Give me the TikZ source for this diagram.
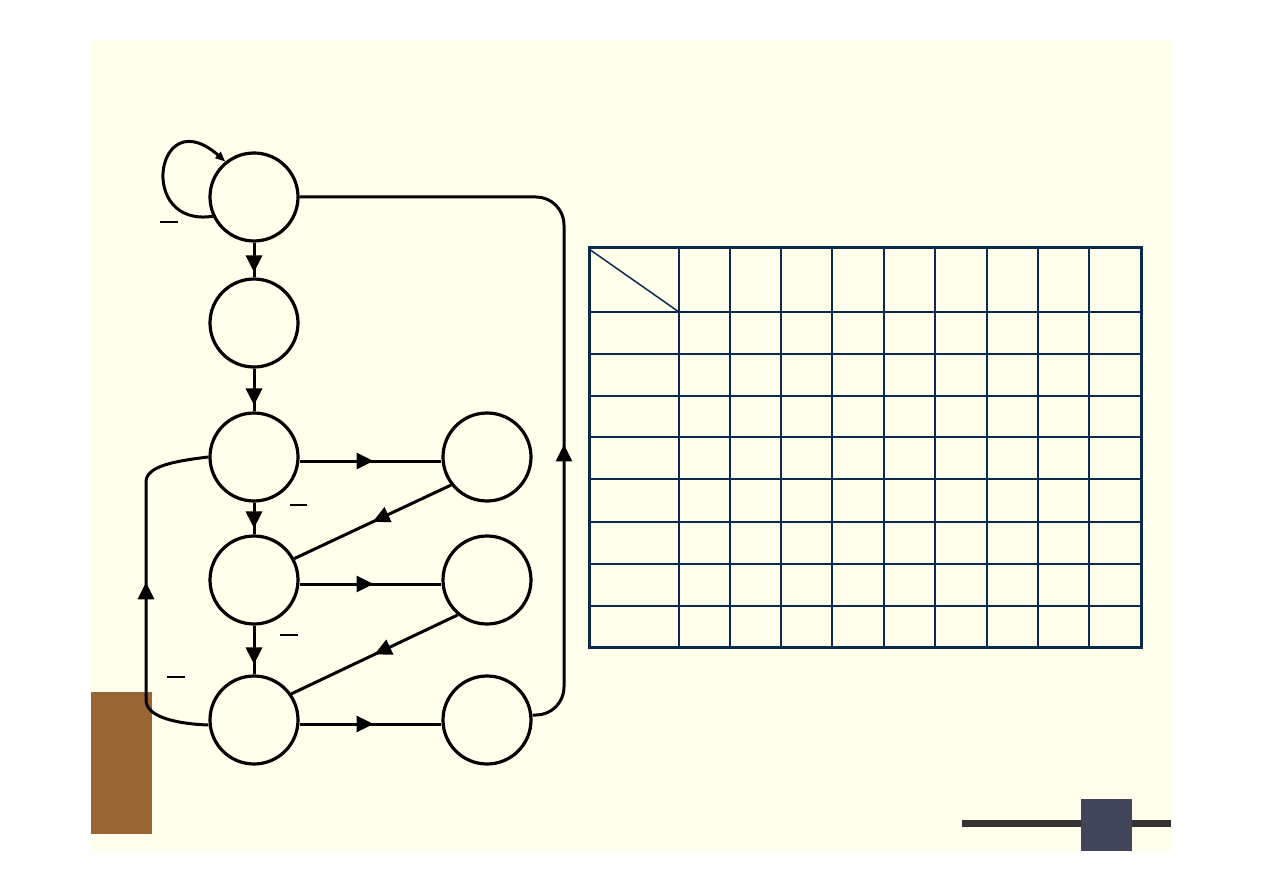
\documentclass[tikz,border=0pt]{standalone}
\usetikzlibrary{arrows.meta,decorations.markings}
\definecolor{cream}{HTML}{FFFFEB}
\definecolor{brownbox}{HTML}{996633}
\definecolor{navy}{HTML}{0A2A50}
\definecolor{bardark}{HTML}{333333}
\definecolor{sq}{HTML}{41455A}
\tikzset{
  st/.style={circle,draw=black,line width=3.2pt,minimum size=88pt,inner sep=0pt,fill=cream},
  conn/.style={line width=3pt,black},
  tip/.style={postaction={decorate,decoration={markings,mark=at position #1 with {\arrow{Triangle[length=17pt,width=16pt]}}}}},
  bar/.style={line width=1.5pt,black},
  thin/.style={line width=1.5pt,navy},
  thick/.style={line width=3pt,navy},
}
\begin{document}
\begin{tikzpicture}[x=1pt,y=-1pt]
\useasboundingbox (0,0) rectangle (1263,893);
\fill[white] (0,0) rectangle (1263,893);
\fill[cream] (91,40) rectangle (1171,851);
\fill[brownbox] (91,692) rectangle (152,834);
\draw[bardark,line width=7pt] (962,823) -- (1171,823);
\fill[sq] (1081,799) rectangle (1132,851);
% states
\node[st] (c1) at (254,197) {};
\node[st] (c2) at (254,323) {};
\node[st] (c3) at (254,457) {};
\node[st] (c4) at (254,580) {};
\node[st] (c5) at (254,720) {};
\node[st] (r1) at (487,457) {};
\node[st] (r2) at (487,580) {};
\node[st] (r3) at (487,720) {};
% vertical
\draw[conn,tip=-5pt] (c1) -- (c2);
\draw[conn,tip=-6pt] (c2) -- (c3);
\draw[conn,tip=-6pt] (c3) -- (c4);
\draw[conn,tip=-10pt] (c4) -- (c5);
% horizontal
\draw[conn,tip=74pt] ([yshift=-4pt]c3.east) -- ([yshift=-4pt]r1.west);
\draw[conn,tip=74pt] ([yshift=-4pt]c4.east) -- ([yshift=-4pt]r2.west);
\draw[conn,tip=74pt] ([yshift=-4pt]c5.east) -- ([yshift=-4pt]r3.west);
% diagonals
\draw[conn,tip=0.5] (r1.218) -- (c4.28);
\draw[conn,tip=0.5] (r2.230) -- (c5.35);
% right return
\draw[conn,rounded corners=28pt,tip=290pt] ([yshift=5pt]r3.east) -- (564,715) -- (564,197) -- (c1.east);
% left loop
\draw[conn,tip=190pt] ([yshift=-5pt]c5.west) .. controls (180,724) and (146,718) .. (146,700) -- (146,482) .. controls (146,466) and (175,461) .. (c3.west);
% self loop
\draw[conn,-{Triangle[length=10pt,width=8pt]}] (c1.205) .. controls (136,228) and (156,100) .. (c1.129);
% overline marks
\draw[bar] (160,222) -- (178,222);
\draw[bar] (290,505) -- (307,505);
\draw[bar] (280,635) -- (298,635);
\draw[bar] (167,677) -- (185,677);
% table
\foreach \x in {679,730,781,832,884,935,987,1038,1089} \draw[thin] (\x,248) -- (\x,647);
\foreach \y in {312,354,396,437,479,522,564,606} \draw[thin] (589,\y) -- (1141,\y);
\draw[thin] (589,249) -- (679,312);
\draw[thick] (589,248) rectangle (1141,647);
\end{tikzpicture}
\end{document}
